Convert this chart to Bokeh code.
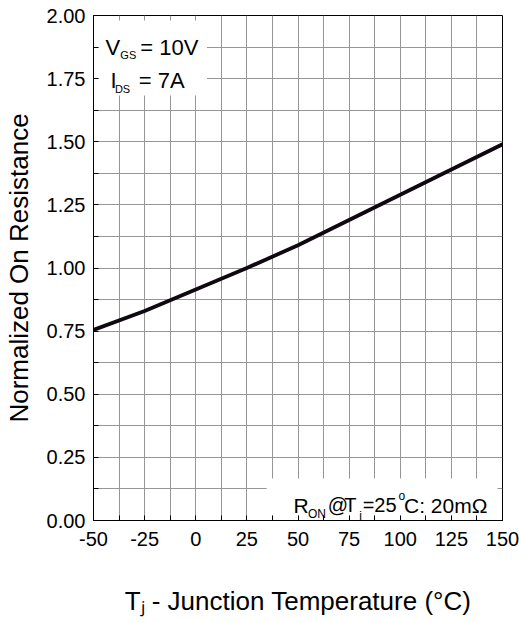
from bokeh.plotting import figure
from bokeh.models import Range1d, FixedTicker, BoxAnnotation, Label, NumeralTickFormatter
from bokeh.embed import file_html
from bokeh.resources import INLINE

# ---- data ----
temperature = [-50, -25, 0, 25, 50, 75, 100, 125, 150]
norm_resistance = [0.755, 0.83, 0.915, 1.0, 1.09, 1.19, 1.29, 1.39, 1.49]

x_ticks = [-50, -25, 0, 25, 50, 75, 100, 125, 150]
x_minor = [-37.5, -12.5, 12.5, 37.5, 62.5, 87.5, 112.5, 137.5]
y_ticks = [0.0, 0.25, 0.5, 0.75, 1.0, 1.25, 1.5, 1.75, 2.0]
y_minor = [0.125, 0.375, 0.625, 0.875, 1.125, 1.375, 1.625, 1.875]

x_title = "T\u2c7c - Junction Temperature (\u00b0C)"
y_title = "Normalized On Resistance"

FONT = "Liberation Sans"
GRID = "#969696"

# frame placement in pixels
FL, FR, FT, FB = 91, 502, 15, 520
W, H = 519, 622

p = figure(width=W, height=H, x_range=Range1d(-50, 150), y_range=Range1d(0, 2),
           output_backend="svg", toolbar_location=None,
           min_border_left=FL, min_border_right=W - FR, min_border_top=FT,
           min_border_bottom=H - FB)
p.outline_line_color = "black"
p.outline_line_width = 1
p.background_fill_color = "white"
p.border_fill_color = "white"

xt = FixedTicker(ticks=x_ticks, minor_ticks=x_minor)
yt = FixedTicker(ticks=y_ticks, minor_ticks=y_minor)

p.xaxis.ticker = xt
p.yaxis.ticker = yt
p.yaxis.formatter = NumeralTickFormatter(format="0.00")
p.xaxis.major_label_overrides = {t: str(t) for t in x_ticks}

for ax in list(p.xaxis) + list(p.yaxis):
    ax.axis_line_color = "black"
    ax.major_tick_in = 5
    ax.major_tick_out = 0
    ax.minor_tick_in = 5
    ax.minor_tick_out = 0
    ax.major_tick_line_color = "black"
    ax.minor_tick_line_color = "black"
    ax.major_label_text_font = FONT
    ax.major_label_text_font_size = "20px"
    ax.major_label_text_color = "black"
    ax.axis_label_text_font = FONT
    ax.axis_label_text_font_size = "26px"
    ax.axis_label_text_font_style = "normal"
    ax.axis_label_text_color = "black"

p.yaxis.major_label_standoff = 8
p.xaxis.major_label_standoff = 11
p.xaxis.axis_label = x_title
p.yaxis.axis_label = y_title
p.xaxis.axis_label_standoff = 37
p.yaxis.axis_label_standoff = 10

p.xgrid.ticker = xt
p.ygrid.ticker = yt
for g in (p.xgrid, p.ygrid):
    g.grid_line_color = GRID
    g.grid_line_width = 1
    g.minor_grid_line_color = GRID
    g.minor_grid_line_width = 1

# curve
p.line(temperature, norm_resistance, line_color="#100810", line_width=3.8)


def dx(px):
    return -50 + (px - FL) * 200.0 / (FR - FL)


def dy(py):
    return (FB - py) * 2.0 / (FB - FT)


# white boxes behind the annotations (grid stubs at the frame edge stay visible as ticks)
p.add_layout(BoxAnnotation(left=dx(96), right=dx(205), top=dy(20), bottom=dy(95),
                           fill_color="white", fill_alpha=1, line_color=None,
                           level="underlay"))
p.add_layout(BoxAnnotation(left=dx(265), right=dx(497), top=dy(478), bottom=dy(515),
                           fill_color="white", fill_alpha=1, line_color=None,
                           level="underlay"))


def txt(s, px, py, size):
    p.add_layout(Label(x=dx(px), y=dy(py), text=s, text_font=FONT,
                       text_font_size=f"{size}px", text_color="black",
                       text_align="left", text_baseline="alphabetic"))


# V_GS / I_DS
txt("V", 103, 46.5, 22)
txt("GS", 118, 54.5, 11)
txt("= 10V", 138, 46.5, 22)
txt("I", 108, 79.5, 22)
txt("DS", 112.5, 88.5, 11)
txt("= 7A", 136.5, 79.5, 22)

# R_ON @ Tj = 25°C : 20mΩ
txt("R", 292, 504.5, 21)
txt("ON", 306.5, 513, 12)
txt("@", 326.5, 504.5, 20)
txt("T", 343, 504.5, 20)
txt("j", 358, 515, 12)
txt("=25", 361.5, 504.5, 20)
txt("o", 397.5, 495, 12)
txt("C: 20mΩ", 403, 504.5, 21)

open("out.html", "w").write(file_html(p, INLINE))
